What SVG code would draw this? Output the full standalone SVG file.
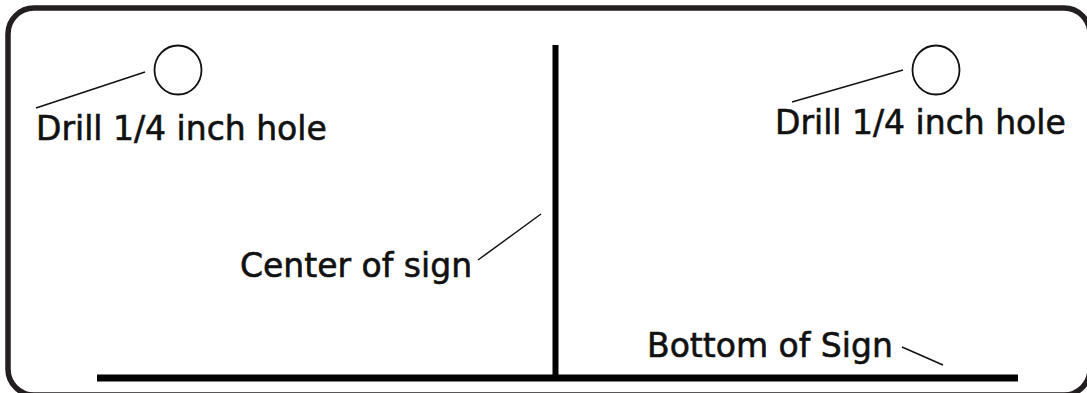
<svg xmlns="http://www.w3.org/2000/svg" width="1087" height="393" viewBox="0 0 1087 393">
<style>
.lbl{font-family:"DejaVu Sans",Verdana,sans-serif;font-size:33px;fill:#111;stroke:#111;stroke-width:0.6}
.lead{stroke:#111;stroke-width:1.5;fill:none}
.hole{stroke:#111;stroke-width:1.8;fill:#fff}
.bar{stroke:#000;fill:none}
</style>
<rect id="frame" x="8" y="8" width="1082" height="387" rx="26" ry="26" fill="#fff" stroke="#231f20" stroke-width="5.5"/>
<g id="center-line"><line class="bar" x1="555.5" y1="45" x2="555.5" y2="378" stroke-width="6"/></g>
<g id="bottom-line"><line class="bar" x1="97" y1="378" x2="1018" y2="378" stroke-width="7"/></g>
<g id="hole-left"><ellipse class="hole" cx="178" cy="70" rx="23.5" ry="24.5"/></g>
<g id="hole-right"><ellipse class="hole" cx="936" cy="70" rx="23.5" ry="24.5"/></g>
<g id="connectors">
<line class="lead" x1="36" y1="108" x2="145" y2="72"/>
<line class="lead" x1="792" y1="102" x2="903" y2="70"/>
<line class="lead" x1="478" y1="260" x2="541" y2="214"/>
<line class="lead" x1="902" y1="347" x2="943" y2="365"/>
</g>
<g id="label-left"><text class="lbl" x="36" y="140">Drill 1/4 inch hole</text></g>
<g id="label-right"><text class="lbl" x="775" y="134">Drill 1/4 inch hole</text></g>
<g id="label-center"><text class="lbl" x="240" y="277">Center of sign</text></g>
<g id="label-bottom"><text class="lbl" x="647" y="357">Bottom of Sign</text></g>
</svg>
